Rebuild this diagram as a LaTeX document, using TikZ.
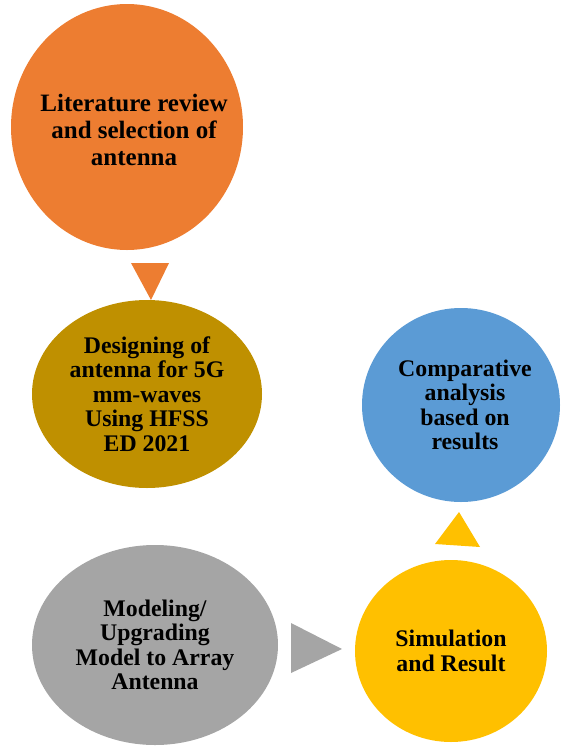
\documentclass[tikz,border=0pt]{standalone}
\usepackage{fontspec}
\setmainfont{Liberation Serif}

\definecolor{stepOrange}{HTML}{ED7D31}
\definecolor{stepOlive}{HTML}{BF9000}
\definecolor{stepBlue}{HTML}{5B9BD5}
\definecolor{stepGray}{HTML}{A5A5A5}
\definecolor{stepGold}{HTML}{FFC000}

\tikzset{
  stage/.style={inner sep=0pt, align=center,
    font=\bfseries\fontsize{23.8}{24.5}\selectfont},
}

\begin{document}
\begin{tikzpicture}[x=1pt, y=-1pt]
  \useasboundingbox (0,0) rectangle (561,747);
  % the five stages as coloured discs
  \fill[stepOrange] (127,127) ellipse [x radius=116, y radius=123];
  \fill[stepOlive]  (147,394) ellipse [x radius=115, y radius=94];
  \fill[stepGray]   (155,645) ellipse [x radius=123, y radius=100];
  \fill[stepGold]   (451,651) ellipse [x radius=96, y radius=91];
  \fill[stepBlue]   (461,405) ellipse [x radius=99, y radius=97];
  % their labels
  \node[stage, font=\bfseries\fontsize{25}{27}\selectfont] (lit) at (134,130)
    {Literature review\\and selection of\\antenna};
  \node[stage] (design) at (147,394)
    {Designing of\\antenna for 5G\\mm-waves\\Using HFSS\\ED 2021};
  \node[stage] (model) at (155,645)
    {Modeling/\\Upgrading\\Model to Array\\Antenna};
  \node[stage] (sim) at (451,651)
    {Simulation\\and Result};
  \node[stage] (comp) at (465,405)
    {Comparative\\analysis\\based on\\results};
  % arrow heads between stages
  \fill[stepOrange] (131,263) -- (169,263) -- (151,300) -- cycle;
  \fill[stepGray] (291,623) -- (291,673) -- (342,649) -- cycle;
  \fill[stepGold] (435,544) -- (480,547) -- (459,512) -- cycle;
\end{tikzpicture}
\end{document}
